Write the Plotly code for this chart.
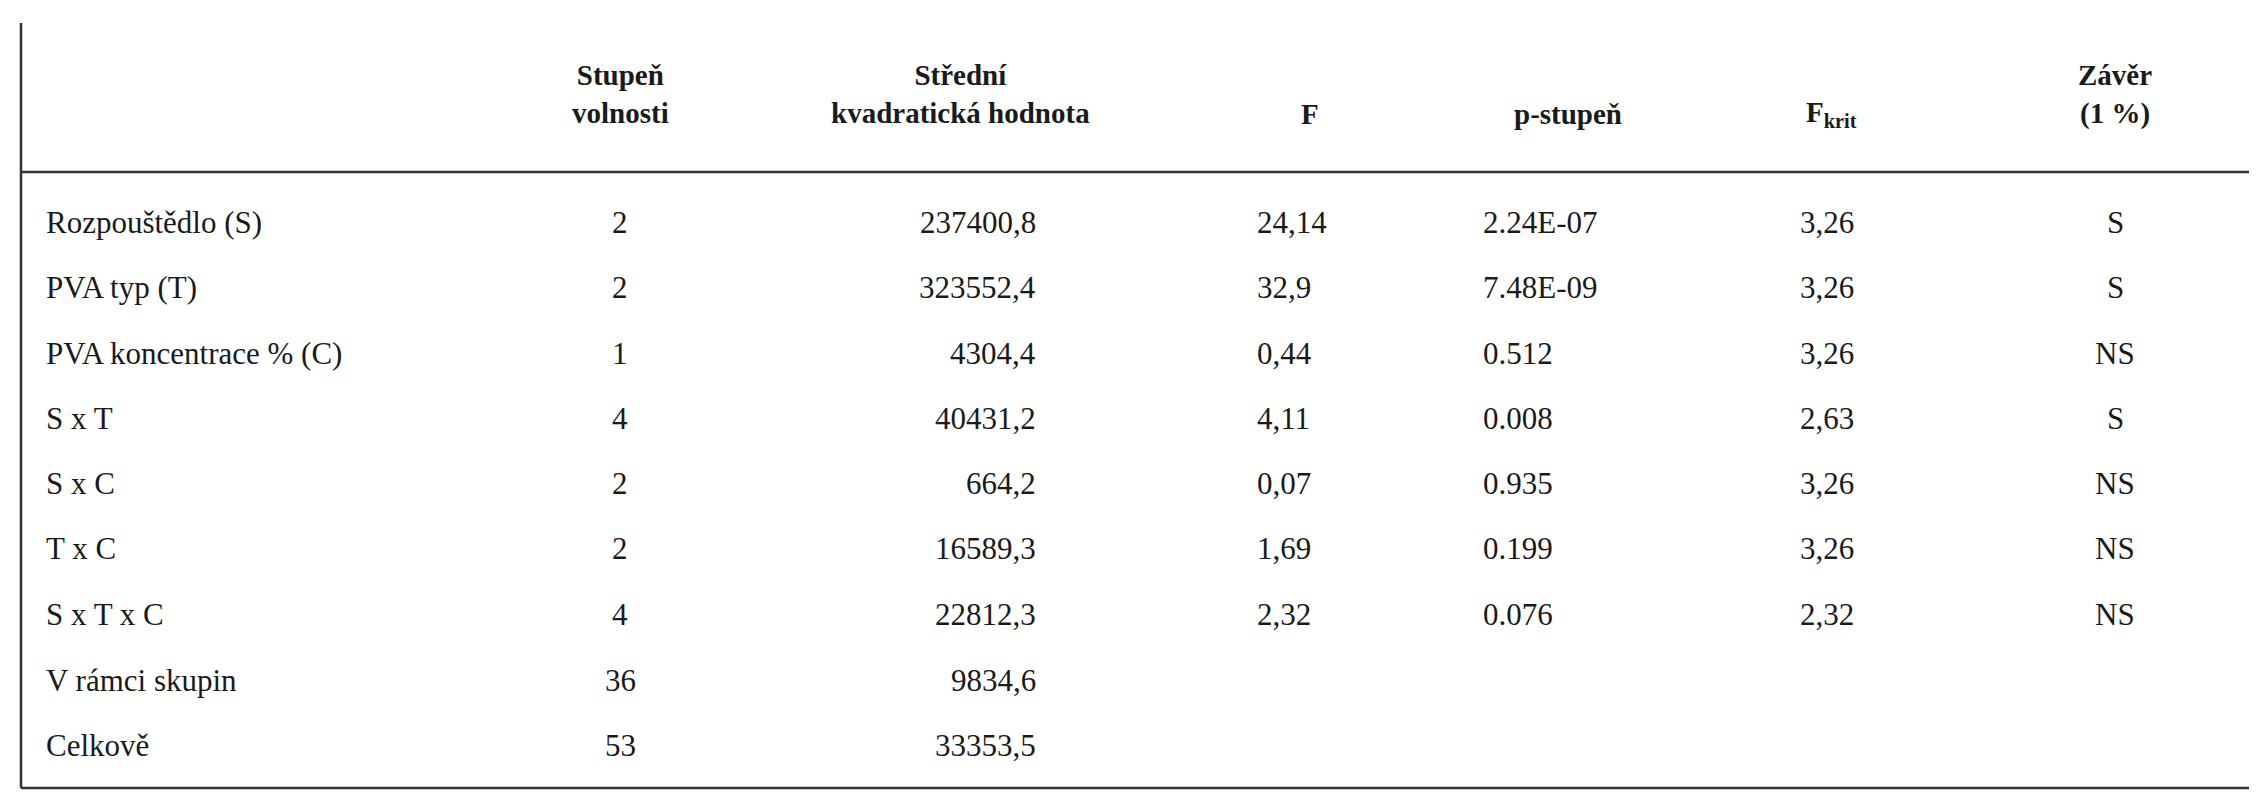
import plotly.graph_objects as go

rows = ["Rozpouštědlo (S)", "PVA typ (T)", "PVA koncentrace % (C)", "S x T", "S x C",
        "T x C", "S x T x C", "V rámci skupin", "Celkově"]
df = ["2", "2", "1", "4", "2", "2", "4", "36", "53"]
ms = ["237400,8", "323552,4", "4304,4", "40431,2", "664,2", "16589,3", "22812,3", "9834,6", "33353,5"]
fval = ["24,14", "32,9", "0,44", "4,11", "0,07", "1,69", "2,32", "", ""]
pval = ["2.24E-07", "7.48E-09", "0.512", "0.008", "0.935", "0.199", "0.076", "", ""]
fkrit = ["3,26", "3,26", "3,26", "2,63", "3,26", "3,26", "2,32", "", ""]
zaver = ["S", "S", "NS", "S", "NS", "NS", "NS", "", ""]
headers = ["Stupeň<br>volnosti", "Střední<br>kvadratická hodnota", "F", "p-stupeň",
           "F<sub>krit</sub>", "Závěr<br>(1 %)"]

W, H = 2266, 800
FONT = "Liberation Serif, Times New Roman, DejaVu Serif, serif"
row_y = [214, 279, 345, 410, 475, 540, 606, 672, 737]
hdr_x = [612, 952, 1302, 1560, 1823, 2107]

fig = go.Figure()
fig.update_layout(width=W, height=H, margin=dict(l=0, r=0, t=0, b=0),
                  paper_bgcolor="white", plot_bgcolor="white", showlegend=False,
                  font=dict(family=FONT),
                  xaxis=dict(range=[0, W], visible=False, fixedrange=True),
                  yaxis=dict(range=[H, 0], visible=False, fixedrange=True))

def ann(x, y, t, anchor="center", bold=False, size=31):
    if bold and t:
        t = "<b>" + t + "</b>"
    fig.add_annotation(x=x, y=y, xref="x", yref="y", text=t, showarrow=False,
                       xanchor=anchor, yanchor="middle", align="center",
                       font=dict(family=FONT, size=size, color="#1a1a1a"))

for hx, h in zip(hdr_x, headers):
    ann(hx, 86 if "<br>" in h else 106, h, bold=True, size=29)

for i, y in enumerate(row_y):
    ann(36, y, rows[i], "left")
    ann(612, y, df[i])
    ann(1030, y, ms[i], "right")
    if fval[i]:
        ann(1247, y, fval[i], "left")
        ann(1473, y, pval[i], "left")
        ann(1790, y, fkrit[i], "left")
        ann(2107, y, zaver[i])

line = dict(color="#333", width=2.5)
fig.add_shape(type="line", x0=13, x1=13, y0=15, y1=780, xref="x", yref="y", line=line)
fig.add_shape(type="line", x0=13, x1=2241, y0=164, y1=164, xref="x", yref="y", line=line)
fig.add_shape(type="line", x0=13, x1=2241, y0=780, y1=780, xref="x", yref="y", line=line)

fig.write_html("out.html")
